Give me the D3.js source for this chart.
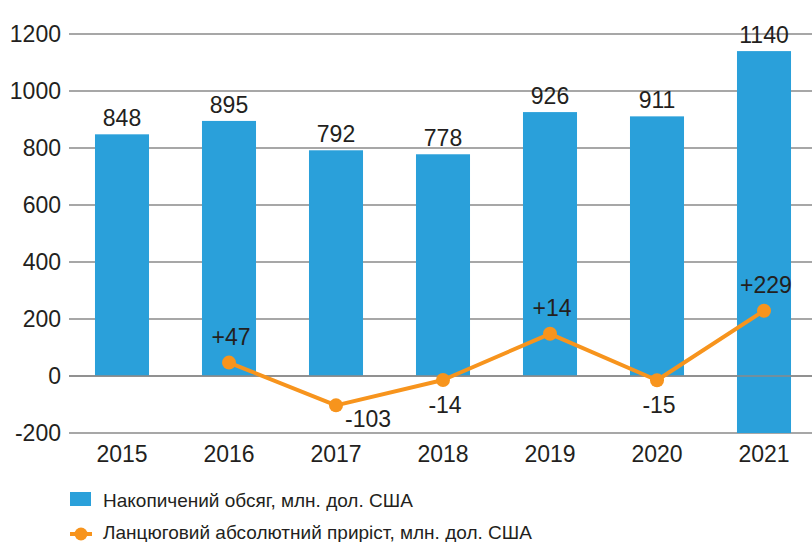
<!DOCTYPE html>
<html>
<head>
<meta charset="utf-8">
<script src="https://cdn.jsdelivr.net/npm/d3@7"></script>
<style>
    body { margin: 0; background: #fff; }
    text { font-family: "Liberation Sans", Arial, sans-serif; fill: #231f20; }
</style>
</head>
<body>
<div id="chart"></div>
<script>
const years = ["2015", "2016", "2017", "2018", "2019", "2020", "2021"];
const volume = [848, 895, 792, 778, 926, 911, 1140];
const barBase = [0, 0, 0, 0, 0, 0, -200];
const growthYears = ["2016", "2017", "2018", "2019", "2020", "2021"];
const growth = [47, -103, -14, 148, -15, 229];
const growthLabels = ["+47", "-103", "-14", "+14", "-15", "+229"];
const yTicks = [-200, 0, 200, 400, 600, 800, 1000, 1200];
const legendNames = ["Накопичений обсяг, млн. дол. США", "Ланцюговий абсолютний приріст, млн. дол. США"];

const width = 812, height = 542;
const blue = "#2aa0da", orange = "#f7941d", grid = "#8a8a8a";
const fontSize = 23;

const svg = d3.select("#chart")
    .append("svg")
    .attr("width", width)
    .attr("height", height);

const xScale = d3.scaleBand()
    .domain(years)
    .range([68.5, 817.5])
    .paddingInner(0.495)
    .paddingOuter(0.2475);

const yScale = d3.scaleLinear()
    .domain([-200, 1200])
    .range([433, 34]);

// Gridlines
svg.append("g")
    .selectAll("line")
    .data(yTicks)
    .enter()
    .append("line")
    .attr("x1", 69)
    .attr("x2", width)
    .attr("y1", d => yScale(d))
    .attr("y2", d => yScale(d))
    .attr("stroke", grid)
    .attr("stroke-width", 1.6);

// Y tick labels
svg.append("g")
    .selectAll("text")
    .data(yTicks)
    .enter()
    .append("text")
    .attr("x", 61)
    .attr("y", d => yScale(d))
    .attr("dy", "0.36em")
    .attr("text-anchor", "end")
    .attr("font-size", fontSize)
    .text(d => d);

// Bars
const data = years.map((y, i) => ({ year: y, value: volume[i], base: barBase[i] }));

svg.append("g")
    .selectAll("rect")
    .data(data)
    .enter()
    .append("rect")
    .attr("x", d => xScale(d.year))
    .attr("width", xScale.bandwidth())
    .attr("y", d => yScale(d.value))
    .attr("height", d => yScale(d.base) - yScale(d.value))
    .attr("fill", blue);

// zero line over bars
svg.append("line")
    .attr("x1", 69)
    .attr("x2", width)
    .attr("y1", yScale(0))
    .attr("y2", yScale(0))
    .attr("stroke", grid)
    .attr("stroke-width", 1.6);

// Bar value labels
svg.append("g")
    .selectAll("text")
    .data(data)
    .enter()
    .append("text")
    .attr("x", d => xScale(d.year) + xScale.bandwidth() / 2)
    .attr("y", d => yScale(d.value) - 8)
    .attr("text-anchor", "middle")
    .attr("font-size", fontSize)
    .text(d => d.value);

// X labels
svg.append("g")
    .selectAll("text")
    .data(years)
    .enter()
    .append("text")
    .attr("x", d => xScale(d) + xScale.bandwidth() / 2)
    .attr("y", 462)
    .attr("text-anchor", "middle")
    .attr("font-size", fontSize)
    .text(d => d);

// Growth line
const gData = growthYears.map((y, i) => ({ year: y, value: growth[i], label: growthLabels[i] }));
const cx = d => xScale(d.year) + xScale.bandwidth() / 2;

svg.append("path")
    .datum(gData)
    .attr("fill", "none")
    .attr("stroke", orange)
    .attr("stroke-width", 4)
    .attr("stroke-linejoin", "round")
    .attr("d", d3.line().x(cx).y(d => yScale(d.value)));

svg.append("g")
    .selectAll("circle")
    .data(gData)
    .enter()
    .append("circle")
    .attr("cx", cx)
    .attr("cy", d => yScale(d.value))
    .attr("r", 7)
    .attr("fill", orange);

// growth labels: above when positive, below when negative
svg.append("g")
    .selectAll("text")
    .data(gData)
    .enter()
    .append("text")
    .attr("x", d => cx(d) + (d.value < -50 ? 32 : 2))
    .attr("y", d => yScale(d.value) + (d.value >= 0 ? -18 : (d.value < -50 ? 22 : 33)))
    .attr("text-anchor", "middle")
    .attr("font-size", fontSize)
    .text(d => d.label);

// Legend
const legend = svg.append("g");
legend.append("rect")
    .attr("x", 70).attr("y", 492)
    .attr("width", 21).attr("height", 14)
    .attr("fill", blue);
legend.append("line")
    .attr("x1", 70).attr("x2", 92)
    .attr("y1", 534).attr("y2", 534)
    .attr("stroke", orange).attr("stroke-width", 4);
legend.append("circle")
    .attr("cx", 81).attr("cy", 534).attr("r", 6.5)
    .attr("fill", orange);
legend.selectAll("text")
    .data(legendNames)
    .enter()
    .append("text")
    .attr("x", 103)
    .attr("y", (d, i) => 507 + i * 32)
    .attr("font-size", 19)
    .text(d => d);
</script>
</body>
</html>
